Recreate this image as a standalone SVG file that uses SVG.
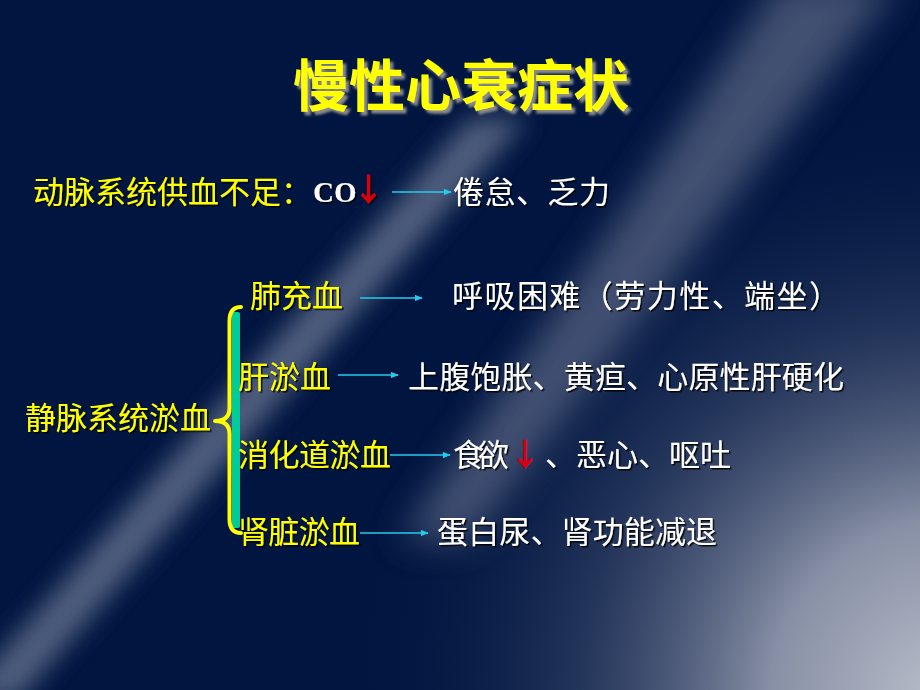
<svg xmlns="http://www.w3.org/2000/svg" width="920" height="690" viewBox="0 0 920 690">
  <defs>
    <radialGradient id="brGlow" cx="950" cy="700" r="600" gradientUnits="userSpaceOnUse">
      <stop offset="0" stop-color="#bcc0cc" stop-opacity="1"/>
      <stop offset="0.3" stop-color="#8e96aa" stop-opacity="0.95"/>
      <stop offset="0.62" stop-color="#3c4a6c" stop-opacity="0.6"/>
      <stop offset="1" stop-color="#001540" stop-opacity="0"/>
    </radialGradient>
    <filter id="blur1" x="-50%" y="-50%" width="200%" height="200%">
      <feGaussianBlur stdDeviation="13"/>
    </filter>
    <filter id="blur2" x="-50%" y="-50%" width="200%" height="200%">
      <feGaussianBlur stdDeviation="18"/>
    </filter>
    <filter id="titleShadow" x="-10%" y="-20%" width="130%" height="150%">
      <feDropShadow dx="3.5" dy="3.5" stdDeviation="0.8" flood-color="#8a8a8a" flood-opacity="1"/>
    </filter>
    <filter id="txtShadow" x="-10%" y="-20%" width="130%" height="150%">
      <feDropShadow dx="1.5" dy="1.5" stdDeviation="0.4" flood-color="#000000" flood-opacity="0.9"/>
    </filter>
    <marker id="arrowHead" viewBox="0 0 10 8" refX="9" refY="4" markerWidth="8" markerHeight="6.4" markerUnits="userSpaceOnUse" orient="auto">
      <path d="M0,0 L10,4 L0,8 Z" fill="#22ccee"/>
    </marker>
    <style>
      .lbl { font-family: "Noto Sans CJK SC", "Noto Sans", sans-serif; font-size: 31px; fill: #ffff00; filter: url(#txtShadow); }
      .res { font-family: "Noto Sans CJK SC", "Noto Sans", sans-serif; font-size: 31px; fill: #ffffff; filter: url(#txtShadow); }
      .down { font-family: "Noto Sans CJK SC", sans-serif; font-size: 32px; font-weight: bold; fill: #d80010; }
      .conn { stroke: #22ccee; stroke-width: 1.6; fill: none; marker-end: url(#arrowHead); }
    </style>
  </defs>

  <!-- background -->
  <rect x="0" y="0" width="920" height="690" fill="#001540"/>
  <rect x="0" y="0" width="920" height="690" fill="url(#brGlow)"/>
  <polygon points="470,118 528,118 18,700 -40,700" fill="#5a6886" opacity="0.9" filter="url(#blur1)"/>
  <polygon points="780,-20 900,-20 470,540 400,540" fill="#4d5a7a" opacity="0.85" filter="url(#blur2)"/>

  <!-- title -->
  <g id="title">
    <text x="293" y="106" textLength="336" lengthAdjust="spacing" font-family="'Noto Sans CJK SC', sans-serif" font-size="56" font-weight="bold" fill="#ffff00" filter="url(#titleShadow)">慢性心衰症状</text>
  </g>

  <!-- nodes -->
  <g id="arterial">
    <text class="lbl" x="33" y="203" textLength="279" lengthAdjust="spacing">动脉系统供血不足：</text>
    <text x="313" y="202" font-family="'Liberation Serif', serif" font-size="29" font-weight="bold" fill="#ffffff" filter="url(#txtShadow)">CO<tspan class="down" dx="-4" dy="-1">↓</tspan></text>
  </g>
  <g id="fatigue">
    <text class="res" x="453" y="203" textLength="157" lengthAdjust="spacing">倦怠、乏力</text>
  </g>

  <g id="venous">
    <text class="lbl" x="25" y="429" textLength="186" lengthAdjust="spacing">静脉系统淤血</text>
  </g>
  <g id="brace">
    <rect x="232" y="312" width="8" height="216" rx="2" fill="#00cc99"/>
    <path d="M241,307 Q229.5,307 229.5,321 L229.5,408 Q229.5,421 215,421 Q229.5,421 229.5,434 L229.5,519 Q229.5,533 241,533" fill="none" stroke="#ffff00" stroke-width="4" stroke-linecap="round" stroke-linejoin="round"/>
  </g>

  <g id="lung">
    <text class="lbl" x="250" y="307" textLength="93" lengthAdjust="spacing">肺充血</text>
  </g>
  <g id="dyspnea">
    <text class="res" x="452" y="307" textLength="388" lengthAdjust="spacing">呼吸困难（劳力性、端坐）</text>
  </g>

  <g id="liver">
    <text class="lbl" x="238" y="388" textLength="93" lengthAdjust="spacing">肝淤血</text>
  </g>
  <g id="liverSym">
    <text class="res" x="408" y="388" textLength="436" lengthAdjust="spacing">上腹饱胀、黄疸、心原性肝硬化</text>
  </g>

  <g id="gi">
    <text class="lbl" x="238" y="466" textLength="153" lengthAdjust="spacing">消化道淤血</text>
  </g>
  <g id="giSym">
    <text class="res" x="453" y="466" textLength="56" lengthAdjust="spacing">食欲</text>
    <text class="down" x="509" y="466">↓</text>
    <text class="res" x="545" y="466" textLength="186" lengthAdjust="spacing">、恶心、呕吐</text>
  </g>

  <g id="kidney">
    <text class="lbl" x="238" y="543" textLength="122" lengthAdjust="spacing">肾脏淤血</text>
  </g>
  <g id="kidneySym">
    <text class="res" x="437" y="543" textLength="280" lengthAdjust="spacing">蛋白尿、肾功能减退</text>
  </g>

  <!-- connectors -->
  <g id="connectors">
    <line class="conn" x1="392" y1="192" x2="451" y2="192"/>
    <line class="conn" x1="360" y1="298" x2="422" y2="298"/>
    <line class="conn" x1="338" y1="375" x2="398" y2="375"/>
    <line class="conn" x1="390" y1="455" x2="450" y2="455"/>
    <line class="conn" x1="360" y1="533" x2="428" y2="533"/>
  </g>
</svg>
